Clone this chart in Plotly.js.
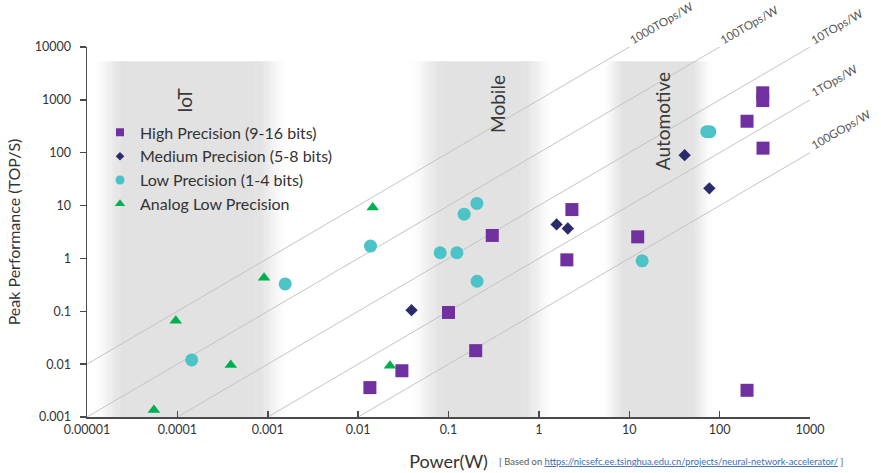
<!DOCTYPE html>
<html><head><meta charset="utf-8">
<script src="https://cdn.plot.ly/plotly-3.0.1.min.js"></script>
<style>html,body{margin:0;padding:0;background:#fff}</style>
</head><body><div id="chart" style="width:881px;height:473px"></div>
<script>
// ---- data ----
const seriesNames = ["High Precision (9-16 bits)", "Medium Precision (5-8 bits)", "Low Precision (1-4 bits)", "Analog Low Precision"];

const highPower = [0.0135, 0.0305, 0.1, 0.2, 0.305, 2.32, 2.04, 12.4, 201, 302, 300, 300, 201];
const highPerf  = [0.0036, 0.0075, 0.095, 0.018, 2.72, 8.4, 0.94, 2.56, 394, 122, 1360, 970, 0.0032];

const medPower = [0.039, 1.57, 2.09, 41, 77];
const medPerf  = [0.105, 4.4, 3.69, 90, 21.2];

const lowPower = [0.000144, 0.00156, 0.0137, 0.081, 0.124, 0.207, 0.149, 0.206, 13.9, 72, 78];
const lowPerf  = [0.012, 0.33, 1.71, 1.28, 1.28, 0.37, 6.87, 11.0, 0.90, 250, 250];

const analogPower = [0.000055, 0.000096, 0.00039, 0.00091, 0.0145, 0.0225];
const analogPerf  = [0.00135, 0.066, 0.0096, 0.43, 9.2, 0.0093];

const effValues = [1000, 100, 10, 1, 0.1];           // TOPs/W
const effLabels = ["1000TOps/W", "100TOps/W", "10TOps/W", "1TOps/W", "100GOps/W"];

const regionNames = ["IoT", "Mobile", "Automotive"];
const regionLabelPower = [0.00012, 0.35, 23];
const regionLabelPerf  = [980, 826, 394];
// band extents in W: fade-in start, full start, full end, fade-out end
const iotBand    = [0.0000114, 0.0000263, 0.000721, 0.00176];
const mobileBand = [0.0356, 0.0912, 0.649, 1.50];
const autoBand   = [4.98, 8.93, 46.8, 88.5];
const bandTopPerf = 5370;

const xTickVals = [0.00001, 0.0001, 0.001, 0.01, 0.1, 1, 10, 100, 1000];
const xTickText = ["0.00001", "0.0001", "0.001", "0.01", "0.1", "1", "10", "100", "1000"];
const yTickVals = [0.001, 0.01, 0.1, 1, 10, 100, 1000, 10000];
const yTickText = ["0.001", "0.01", "0.1", "1", "10", "100", "1000", "10000"];

const xRange = [0.00001, 1000];
const yRange = [0.001, 10000];

// ---- styling ----
const FONT = "Lato, 'Open Sans', sans-serif";
const colors = ["#7030a0", "#2b2a6b", "#4cc3c6", "#00b050"];
const symbols = ["square", "diamond", "circle", "triangle-up"];
const plotSizes = [13, 9.5, 13, 11];
const legendSizes = [8, 6.5, 9, 9];

const L = Math.log10;
const xLog = xRange.map(L), yLog = yRange.map(L);

const traces = [];

// efficiency lines
effValues.forEach(e => {
  traces.push({
    type: "scatter", mode: "lines",
    x: xRange, y: xRange.map(p => p * e),
    line: {color: "#c4c4c4", width: 1},
    hoverinfo: "skip", showlegend: false
  });
});

const sets = [[highPower, highPerf], [medPower, medPerf], [lowPower, lowPerf], [analogPower, analogPerf]];
sets.forEach((s, i) => {
  traces.push({
    type: "scatter", mode: "markers", x: s[0], y: s[1], name: seriesNames[i],
    marker: {color: colors[i], symbol: symbols[i], size: plotSizes[i], line: {width: 0}},
    showlegend: false
  });
});
// legend entries
sets.forEach((s, i) => {
  traces.push({
    type: "scatter", mode: "markers", x: [null], y: [null], name: seriesNames[i],
    marker: {color: colors[i], symbol: symbols[i], size: legendSizes[i], line: {width: 0}},
    showlegend: true, hoverinfo: "skip"
  });
});

// gradient bands as thin strips
const shapes = [];
const GRAY = 226;
function shade(t) {
  t = Math.max(0, Math.min(1, t));
  t = t * t * (3 - 2 * t);
  const v = Math.round(255 - (255 - GRAY) * t);
  return `rgb(${v},${v},${v})`;
}
function addBand(b) {
  const [a0, a1, b1, b0] = b.map(L);
  const step = 0.01;
  const rect = (x0, x1, c) => shapes.push({
    type: "rect", xref: "x", yref: "y", layer: "below",
    x0: Math.pow(10, x0), x1: Math.pow(10, x1), y0: yRange[0], y1: bandTopPerf,
    fillcolor: c, line: {width: 0}
  });
  for (let x = a0; x < a1; x += step) rect(x, Math.min(x + step * 1.6, a1 + 0.005), shade((x + step / 2 - a0) / (a1 - a0)));
  rect(a1, b1, shade(1));
  for (let x = b1; x < b0; x += step) rect(Math.max(x - step * 0.6, b1 - 0.005), x + step, shade(1 - (x + step / 2 - b1) / (b0 - b1)));
}
[iotBand, mobileBand, autoBand].forEach(addBand);

// annotations
const annotations = [];
regionNames.forEach((n, i) => {
  annotations.push({
    text: n, xref: "x", yref: "y", x: L(regionLabelPower[i]), y: L(regionLabelPerf[i]),
    textangle: -90, showarrow: false, xanchor: "center", yanchor: "middle",
    font: {family: FONT, size: 19, color: "#3a3a3a"}
  });
});
effValues.forEach((e, i) => {
  // where the line leaves the plot (top edge or right edge)
  let px = L(yRange[1] / e), py = yLog[1];
  if (px > xLog[1]) { px = xLog[1]; py = L(e * xRange[1]); }
  annotations.push({
    text: effLabels[i], xref: "paper", yref: "paper",
    x: (px - xLog[0]) / (xLog[1] - xLog[0]), y: (py - yLog[0]) / (yLog[1] - yLog[0]),
    xanchor: "left", yanchor: "bottom", textangle: -30, showarrow: false,
    xshift: -4, yshift: -2,
    font: {family: FONT, size: 11.5, color: "#555"}
  });
});
annotations.push({
  text: "[ Based on <span style='color:#3d6fb5;text-decoration:underline'>https://nicsefc.ee.tsinghua.edu.cn/projects/neural-network-accelerator/</span> ]",
  xref: "paper", yref: "paper", x: 1.048, y: -0.119, xanchor: "right", yanchor: "middle",
  showarrow: false, font: {family: FONT, size: 9.4, color: "#555"}
});

const layout = {
  width: 881, height: 473,
  margin: {l: 87, r: 71, t: 47, b: 56},
  paper_bgcolor: "#fff", plot_bgcolor: "rgba(0,0,0,0)",
  font: {family: FONT, color: "#333"},
  showlegend: true,
  legend: {
    x: 0.018, y: 0.815, xanchor: "left", yanchor: "top",
    bgcolor: "rgba(0,0,0,0)", borderwidth: 0,
    font: {family: FONT, size: 16, color: "#333"},
    traceorder: "normal", itemwidth: 30
  },
  xaxis: {
    type: "log", range: xLog, tickvals: xTickVals, ticktext: xTickText,
    showgrid: false, zeroline: false, showline: true, linecolor: "#4a4a4a", linewidth: 1.5,
    ticks: "inside", ticklen: 6, tickwidth: 1.5, tickcolor: "#4a4a4a",
    tickfont: {family: FONT, size: 12.5, color: "#333"},
    title: {text: "Power(W)", font: {family: FONT, size: 18, color: "#333"}, standoff: 20}
  },
  yaxis: {
    type: "log", range: yLog, tickvals: yTickVals, ticktext: yTickText,
    showgrid: false, zeroline: false, showline: true, linecolor: "#4a4a4a", linewidth: 1.5,
    ticks: "outside", ticklen: 6, tickwidth: 1.5, tickcolor: "#4a4a4a",
    ticklabelstandoff: 6,
    tickfont: {family: FONT, size: 12.5, color: "#333"},
    title: {text: "Peak Performance (TOP/S)", font: {family: FONT, size: 16, color: "#333"}, standoff: 10}
  },
  shapes: shapes,
  annotations: annotations
};

Plotly.newPlot("chart", traces, layout, {displayModeBar: false, staticPlot: true});
</script>
</body></html>
